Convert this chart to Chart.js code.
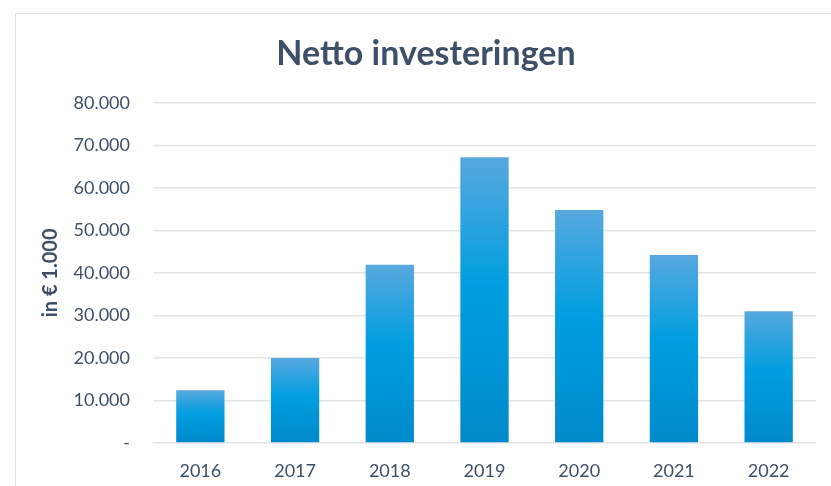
<!DOCTYPE html>
<html>
<head>
<meta charset="utf-8">
<script src="https://cdn.jsdelivr.net/npm/chart.js@4/dist/chart.umd.min.js"></script>
<style>
  body { margin: 0; background: #fff; overflow: hidden; }
  #box {
    position: absolute; left: 15px; top: 13px;
    width: 840px; height: 500px;
    border: 1px solid #dfe4ea;
  }
  #box canvas { display: block; }
</style>
</head>
<body>
<div id="box"><canvas id="chart" width="840" height="500"></canvas></div>
<script>
const years = ["2016", "2017", "2018", "2019", "2020", "2021", "2022"]
const investments = [12400, 20000, 41900, 67200, 54800, 44200, 31000]
const yTicks = [0, 10000, 20000, 30000, 40000, 50000, 60000, 70000, 80000]

const textColor = "#3e5068"
const font = "Lato, 'Open Sans', sans-serif"

// thousands with a dot, zero as a dash
function fmt(v) {
  if (v === 0) return "-"
  return String(v).replace(/\B(?=(\d{3})+(?!\d))/g, ".")
}

// vertical gradient per bar, from its top to the base line
function barFill(ctx) {
  const chart = ctx.chart
  const y = chart.scales.y
  if (!chart.chartArea || !y || ctx.raw == null) return "#009ee0"
  const top = y.getPixelForValue(ctx.raw)
  const base = y.getPixelForValue(0)
  const g = chart.ctx.createLinearGradient(0, top, 0, base)
  g.addColorStop(0, "#58a8df")
  g.addColorStop(0.45, "#009ee0")
  g.addColorStop(1, "#0089cb")
  return g
}

new Chart(document.getElementById("chart"), {
  type: "bar",
  data: {
    labels: years,
    datasets: [{
      data: investments,
      backgroundColor: barFill,
      borderWidth: 0,
      categoryPercentage: 1,
      barPercentage: 0.51,
    }]
  },
  options: {
    responsive: false,
    animation: false,
    layout: { padding: { left: 20, right: 40, top: 0, bottom: 0 } },
    plugins: {
      legend: { display: false },
      tooltip: { enabled: false },
      title: {
        display: true,
        text: "Netto investeringen",
        color: textColor,
        font: { family: font, size: 34, weight: "bold" },
        padding: { top: 20, bottom: 28 },
      }
    },
    scales: {
      x: {
        grid: { display: false },
        border: { display: false },
        ticks: { color: textColor, font: { family: font, size: 18 }, padding: 9 },
        afterFit: (s) => { s.height = 71 },
      },
      y: {
        min: 0,
        max: 80000,
        afterBuildTicks: (s) => { s.ticks = yTicks.map(v => ({ value: v })) },
        grid: { color: "#e1e5ea", lineWidth: 1.5, drawTicks: false },
        border: { display: false },
        ticks: {
          color: textColor,
          font: { family: font, size: 18 },
          padding: 23,
          callback: (v) => fmt(v),
        },
        title: {
          display: true,
          text: "in € 1.000",
          color: textColor,
          font: { family: font, size: 20, weight: "bold" },
          padding: { top: 3, bottom: 0 },
        },
        afterFit: (s) => { s.width = 117 },
      }
    }
  }
})
</script>
</body>
</html>
